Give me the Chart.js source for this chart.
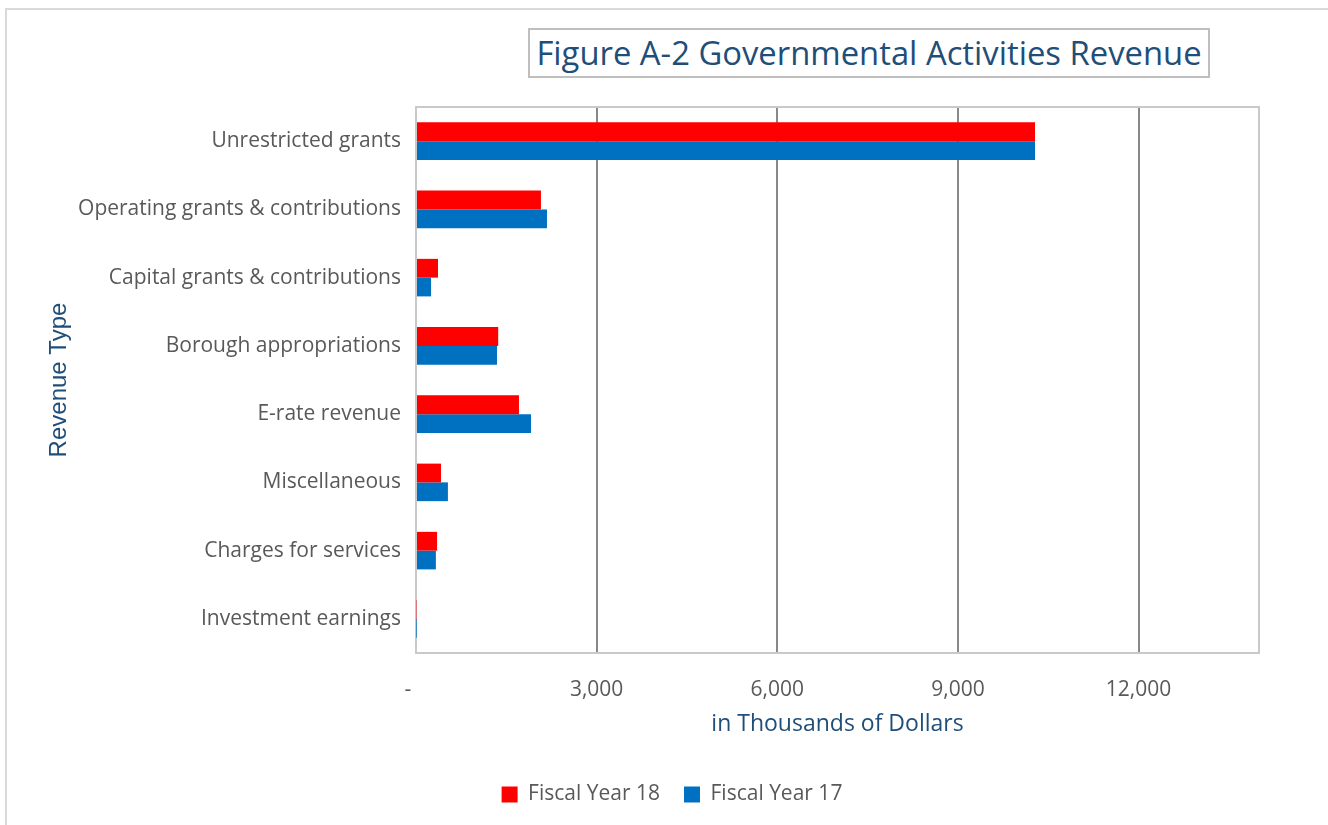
<!DOCTYPE html>
<html>
<head>
<meta charset="utf-8">
<script src="https://cdn.jsdelivr.net/npm/chart.js@4/dist/chart.umd.min.js"></script>
<style>
    body { margin: 0; background: #fff; }
    #wrap { position: relative; width: 1328px; height: 825px; overflow: hidden; }
    #frame { position: absolute; left: 5px; top: 8px; width: 1330px; height: 830px; border: 2px solid #d9d9d9; box-sizing: border-box; }
    #title {
        position: absolute; left: 528px; top: 28px; width: 682px; height: 50px;
        border: 2px solid #bfbfbf; box-sizing: border-box; background: #fff;
        font-family: "Open Sans", sans-serif; font-size: 32.8px; color: #1f4e79;
        text-align: center; line-height: 46px; white-space: nowrap;
    }
    canvas { position: absolute; left: 0; top: 0; }
</style>
</head>
<body>
<div id="wrap">
    <div id="frame"></div>
    <canvas id="revChart" width="1328" height="825"></canvas>
    <div id="title">Figure A-2 Governmental Activities Revenue</div>
</div>
<script>
const categories = [
    "Unrestricted grants",
    "Operating grants & contributions",
    "Capital grants & contributions",
    "Borough appropriations",
    "E-rate revenue",
    "Miscellaneous",
    "Charges for services",
    "Investment earnings"
];
const fy18 = [10280, 2075, 365, 1365, 1710, 415, 350, 10];
const fy17 = [10280, 2175, 250, 1345, 1910, 530, 330, 5];
const tickValues = [0, 3000, 6000, 9000, 12000];
const axisMax = 14000;

// light frame round the plot area
const plotFrame = {
    id: "plotFrame",
    beforeDatasetsDraw(chart) {
        const a = chart.chartArea;
        const ctx = chart.ctx;
        ctx.save();
        ctx.strokeStyle = "#c9c9c9";
        ctx.lineWidth = 2;
        ctx.strokeRect(a.left, a.top, a.right - a.left, a.bottom - a.top);
        ctx.restore();
    }
};

// legend sits a bit right of the plot centre
const legendShift = {
    id: "legendShift",
    afterLayout(chart) {
        chart.legend.left += 20;
        chart.legend.right += 20;
    }
};

const ctx = document.getElementById("revChart").getContext("2d");
new Chart(ctx, {
    type: "bar",
    data: {
        labels: categories,
        datasets: [
            { label: "Fiscal Year 18", data: fy18, backgroundColor: "#ff0000", categoryPercentage: 0.55, barPercentage: 1.0 },
            { label: "Fiscal Year 17", data: fy17, backgroundColor: "#0070c0", categoryPercentage: 0.55, barPercentage: 1.0 }
        ]
    },
    options: {
        indexAxis: "y",
        responsive: false,
        animation: false,
        layout: { padding: { top: 107, left: 45, right: 69, bottom: 10 } },
        scales: {
            x: {
                min: 0,
                max: axisMax,
                afterBuildTicks: s => { s.ticks = tickValues.map(v => ({ value: v })); },
                afterFit: s => { s.height = 107; },
                grid: {
                    color: c => c.tick && c.tick.value === 0 ? "#c9c9c9" : "#888888",
                    lineWidth: 2,
                    drawTicks: false
                },
                border: { display: false },
                ticks: {
                    padding: 24,
                    color: "#595959",
                    font: { family: "Open Sans", size: 21 },
                    callback: v => v === 0 ? "-   " : v.toLocaleString("en-US")
                },
                title: {
                    display: true,
                    text: "in Thousands of Dollars",
                    color: "#1f4e79",
                    font: { family: "Open Sans", size: 23 },
                    padding: { top: 0, bottom: 22 }
                }
            },
            y: {
                afterFit: s => { s.width = 416 - 45; },
                grid: { display: false },
                border: { display: false },
                ticks: {
                    padding: 7,
                    color: "#595959",
                    font: { family: "Open Sans", size: 21 }
                },
                title: {
                    display: true,
                    text: "Revenue Type",
                    color: "#1f4e79",
                    font: { family: "Liberation Sans", size: 24 },
                    padding: { top: 0, bottom: 0 }
                }
            }
        },
        plugins: {
            legend: {
                position: "bottom",
                labels: {
                    color: "#595959",
                    font: { family: "Open Sans", size: 21 },
                    boxWidth: 16,
                    boxHeight: 16,
                    padding: 24
                }
            },
            tooltip: { enabled: false }
        }
    },
    plugins: [plotFrame, legendShift]
});
</script>
</body>
</html>
